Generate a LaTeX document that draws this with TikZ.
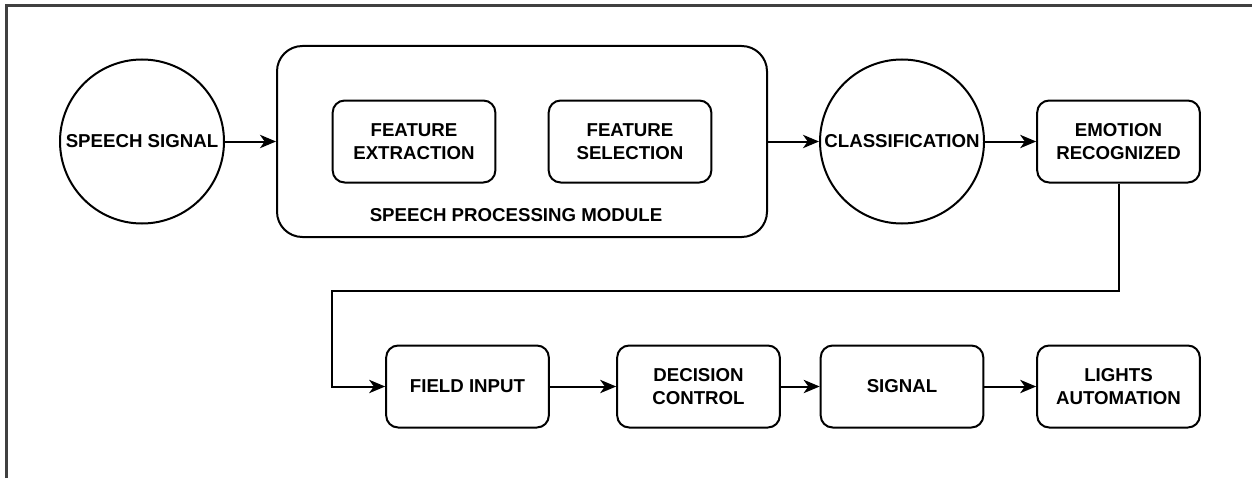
\documentclass[tikz,border=0pt]{standalone}
\usepackage{fontspec}
\setmainfont{Liberation Sans}
\usetikzlibrary{arrows.meta}
\newcommand{\lblfont}{\fontsize{14}{17.5}\selectfont\bfseries}
\definecolor{framegray}{RGB}{64,64,64}
\begin{document}
\begin{tikzpicture}[x=0.75pt,y=0.75pt,yscale=-1,xscale=1,
	box/.style={draw, line width=1.5pt, rounded corners=9pt, minimum width=122pt, minimum height=61.5pt, align=center, inner sep=0pt, font=\lblfont},
	disc/.style={draw, circle, line width=1.5pt, minimum size=123pt, inner sep=0pt, align=center, font=\lblfont},
	arr/.style={line width=1.5pt, -{Stealth[length=12pt,width=10pt,inset=3.5pt]}}]
			\useasboundingbox (0,0) rectangle (1252,478);
			
			%Frame
			\draw [color=framegray, line width=2.25pt]  (6.5,478) -- (6.5,5.5) -- (1252,5.5) ;
			
			%Shapes, top row
			\node [disc] (sig) at (142,141.5) {SPEECH SIGNAL};
			\node [draw, line width=1.5pt, rounded corners=19pt, minimum width=367.5pt, minimum height=143.25pt] (spm) at (522,141.5) {};
			\node [box] (fext) at (414,141.5) {FEATURE\\EXTRACTION};
			\node [box] (fsel) at (630,141.5) {FEATURE\\SELECTION};
			\node [disc] (cls) at (902,141.5) {CLASSIFICATION};
			\node [box] (emo) at (1118.5,141.5) {EMOTION\\RECOGNIZED};
			
			% Text Node
			\draw (516,215) node [inner sep=0.75pt, font=\lblfont] (spmlbl) {SPEECH PROCESSING MODULE};
			
			%Shapes, bottom row
			\node [box] (fin) at (467.5,386.5) {FIELD INPUT};
			\node [box] (dec) at (698.5,386.5) {DECISION\\CONTROL};
			\node [box] (sgl) at (902,386.5) {SIGNAL};
			\node [box] (lig) at (1118.5,386.5) {LIGHTS\\AUTOMATION};
			
			%Connectors
			\coordinate (bendR) at (1118.5,291);
			\coordinate (bendL) at (332,291);
			\draw [arr]  (sig) -- (spm) ;
			\draw [arr]  (spm) -- (cls) ;
			\draw [arr]  (cls) -- (emo) ;
			\draw [arr]  (emo.south) -- (bendR) -- (bendL) |- (fin.west) ;
			\draw [arr]  (fin) -- (dec) ;
			\draw [arr]  (dec) -- (sgl) ;
			\draw [arr]  (sgl) -- (lig) ;
\end{tikzpicture}
\end{document}
